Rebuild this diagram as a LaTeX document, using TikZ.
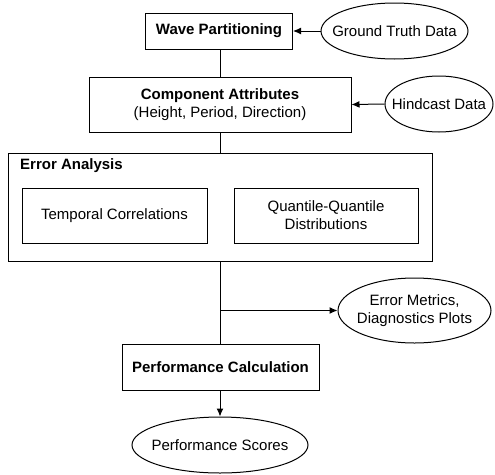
\documentclass[tikz,border=0pt]{standalone}
\usepackage{fontspec}
\setmainfont{Liberation Sans}
\usetikzlibrary{shapes.geometric,arrows.meta}
\begin{document}
\begin{tikzpicture}[x=1pt,y=-1pt,
  every node/.style={font=\fontsize{15}{18}\selectfont, align=center, inner sep=0pt},
  box/.style={draw, line width=1pt, rectangle},
  oval/.style={draw, line width=1pt, ellipse, inner xsep=-30pt, inner ysep=-5pt},
  conn/.style={line width=1pt},
  arr/.style={line width=1pt, -{Latex[length=8pt,width=7pt]}}]
\useasboundingbox (0,0) rectangle (495,474);
\node[box, minimum width=147pt, minimum height=36pt] (wave) at (219,31) {\bfseries Wave Partitioning};
\node[oval, minimum width=147pt, minimum height=56pt] (gt) at (394.5,31) {Ground Truth Data};
\node[box, minimum width=262pt, minimum height=55pt] (comp) at (220,104.5) {{\bfseries Component Attributes}\\(Height, Period, Direction)};
\node[oval, minimum width=108pt, minimum height=56pt] (hind) at (439,104) {Hindcast Data};
\node[box, minimum width=424pt, minimum height=108pt] (ea) at (220,207) {};
\node[anchor=west] (eatitle) at (20,166) {\bfseries Error Analysis};
\node[box, minimum width=185pt, minimum height=55pt] (temp) at (114.5,215.5) {Temporal Correlations};
\node[box, minimum width=184pt, minimum height=55pt] (qq) at (326,215.5) {Quantile-Quantile\\Distributions};
\node[oval, minimum width=153pt, minimum height=65pt] (em) at (414.5,310.5) {Error Metrics,\\Diagnostics Plots};
\node[box, minimum width=197pt, minimum height=46pt] (pc) at (220.5,367) {\bfseries Performance Calculation};
\node[oval, minimum width=176pt, minimum height=56pt] (ps) at (220,445) {Performance Scores};
\coordinate (br) at (220,310.5);
\draw[arr] (gt.west) -- (wave.east);
\draw[arr] (hind.west) -- (comp.east);
\draw[conn] (wave.south -| comp.north) -- (comp.north);
\draw[conn] (comp.south) -- (ea.north);
\draw[conn] (ea.south) -- (pc.north -| ea.south);
\draw[arr] (br) -- (em.west);
\draw[arr] (pc.south -| ps.north) -- (ps.north);
\end{tikzpicture}
\end{document}
